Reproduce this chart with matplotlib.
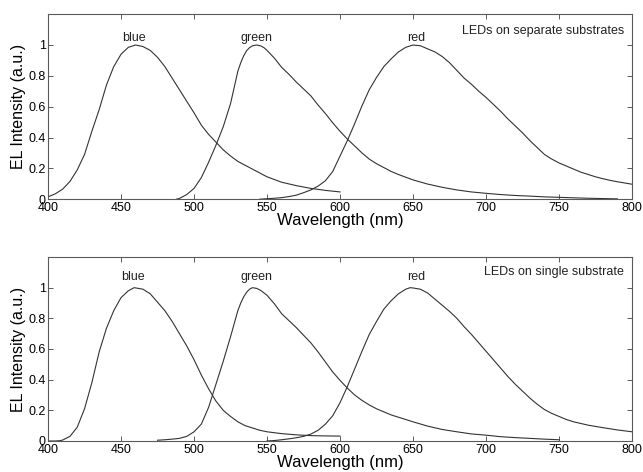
import matplotlib
matplotlib.use('Agg')
import matplotlib.pyplot as plt

plt.rcParams['font.family'] = ['Liberation Sans', 'DejaVu Sans']

# ---- LEDs on separate substrates ----
sep_blue_wl = [400, 405, 410, 415, 420, 425, 430, 435, 440, 445, 450, 455, 460, 465, 470,
               475, 480, 485, 490, 495, 500, 505, 510, 515, 520, 525, 530, 535, 540, 545,
               550, 560, 570, 580, 590, 600]
sep_blue = [0.015, 0.035, 0.065, 0.115, 0.19, 0.29, 0.44, 0.58, 0.74, 0.86, 0.94, 0.985, 1.0, 0.99, 0.965,
            0.92, 0.86, 0.785, 0.71, 0.635, 0.56, 0.48, 0.42, 0.37, 0.32, 0.28, 0.245, 0.22, 0.195, 0.17,
            0.145, 0.11, 0.088, 0.07, 0.057, 0.047]

sep_green_wl = [488, 490, 495, 500, 505, 510, 515, 520, 525, 530, 532, 534, 536, 538, 540,
                543, 546, 548, 550, 555, 560, 565, 570, 575, 580, 585, 590, 595, 600, 605,
                610, 615, 620, 625, 630, 635, 640, 650, 660, 670, 680, 690, 700, 710, 720,
                730, 740, 750, 760, 770, 780, 790]
sep_green = [0.0, 0.005, 0.03, 0.07, 0.14, 0.24, 0.35, 0.47, 0.62, 0.83, 0.885, 0.93, 0.963, 0.983, 0.995,
             1.0, 0.993, 0.982, 0.965, 0.915, 0.855, 0.81, 0.76, 0.715, 0.67, 0.61, 0.555, 0.495, 0.44, 0.39,
             0.345, 0.3, 0.26, 0.23, 0.205, 0.18, 0.16, 0.125, 0.098, 0.077, 0.06, 0.047, 0.038, 0.03, 0.024,
             0.02, 0.015, 0.012, 0.009, 0.006, 0.004, 0.002]

sep_red_wl = [545, 550, 555, 560, 565, 570, 575, 580, 585, 590, 595, 600, 605, 610, 615,
              620, 625, 630, 635, 640, 645, 650, 655, 660, 665, 670, 675, 680, 685, 690,
              695, 700, 705, 710, 715, 720, 725, 730, 735, 740, 745, 750, 755, 760, 765,
              770, 775, 780, 785, 790, 795, 800]
sep_red = [0.0, 0.003, 0.006, 0.01, 0.017, 0.026, 0.042, 0.06, 0.085, 0.12, 0.18, 0.28, 0.38, 0.49, 0.605,
           0.71, 0.79, 0.86, 0.91, 0.955, 0.985, 1.0, 0.995, 0.975, 0.955, 0.925, 0.885, 0.835, 0.785, 0.745,
           0.7, 0.66, 0.615, 0.57, 0.52, 0.475, 0.43, 0.38, 0.335, 0.29, 0.26, 0.235, 0.215, 0.195, 0.175,
           0.16, 0.145, 0.133, 0.122, 0.113, 0.105, 0.097]

# ---- LEDs on single substrate ----
sin_blue_wl = [400, 405, 408, 410, 415, 420, 425, 430, 435, 440, 445, 450, 455, 459, 465,
               470, 475, 480, 485, 490, 495, 500, 505, 510, 515, 520, 525, 530, 535, 540,
               545, 550, 560, 570, 580, 590, 600]
sin_blue = [0.0, 0.0, 0.002, 0.006, 0.03, 0.09, 0.21, 0.38, 0.58, 0.735, 0.85, 0.935, 0.98, 1.0, 0.99,
            0.96, 0.905, 0.85, 0.78, 0.7, 0.62, 0.53, 0.43, 0.34, 0.26, 0.2, 0.16, 0.125, 0.1, 0.085,
            0.07, 0.06, 0.048, 0.04, 0.035, 0.033, 0.032]

sin_green_wl = [475, 480, 485, 490, 495, 500, 505, 510, 515, 520, 525, 530, 532, 534, 536,
                538, 540, 543, 546, 550, 555, 560, 565, 570, 575, 580, 585, 590, 595, 600,
                605, 610, 615, 620, 625, 630, 635, 640, 650, 660, 670, 680, 690, 700, 710,
                720, 730, 740, 750]
sin_green = [0.005, 0.008, 0.012, 0.017, 0.03, 0.06, 0.11, 0.22, 0.37, 0.52, 0.68, 0.85, 0.9, 0.94, 0.97,
             0.99, 1.0, 0.995, 0.98, 0.95, 0.895, 0.83, 0.785, 0.74, 0.69, 0.64, 0.58, 0.515, 0.45, 0.395,
             0.345, 0.3, 0.265, 0.235, 0.21, 0.19, 0.17, 0.155, 0.125, 0.097, 0.075, 0.06, 0.046, 0.038, 0.028,
             0.022, 0.017, 0.012, 0.008]

sin_red_wl = [550, 555, 560, 565, 570, 575, 580, 585, 590, 595, 600, 605, 610, 615, 620,
              625, 630, 635, 640, 645, 648, 650, 655, 660, 665, 670, 675, 680, 685, 690,
              695, 700, 705, 710, 715, 720, 725, 730, 735, 740, 745, 750, 755, 760, 770,
              780, 790, 800]
sin_red = [0.0, 0.003, 0.008, 0.014, 0.021, 0.03, 0.045, 0.07, 0.11, 0.165, 0.25, 0.355, 0.47, 0.585, 0.695,
           0.78, 0.86, 0.915, 0.96, 0.99, 1.0, 0.998, 0.99, 0.965, 0.925, 0.885, 0.845, 0.8, 0.745, 0.695,
           0.64, 0.585, 0.53, 0.475, 0.42, 0.37, 0.325, 0.28, 0.24, 0.205, 0.18, 0.16, 0.14, 0.125, 0.103,
           0.087, 0.072, 0.06]

sep_labels = [('blue', 459), ('green', 543), ('red', 652)]
sin_labels = [('blue', 458), ('green', 543), ('red', 652)]
x_ticks = [400, 450, 500, 550, 600, 650, 700, 750, 800]
y_ticks = [0, 0.2, 0.4, 0.6, 0.8, 1]
y_ticklabels = ['0', '0.2', '0.4', '0.6', '0.8', '1']

line_col = '#333333'
frame_col = '#5a5a5a'

fig = plt.figure(figsize=(6.43, 4.72), dpi=100)
ax1 = fig.add_axes([0.0747, 0.578, 0.9083, 0.392])
ax2 = fig.add_axes([0.0747, 0.0657, 0.9083, 0.3898])


def setup(ax, curves, labels, title, label_y, title_y):
    for wl, val in curves:
        ax.plot(wl, val, color=line_col, lw=0.8)
    ax.set_xlim(400, 800)
    ax.set_ylim(0, 1.2)
    ax.set_xticks(x_ticks)
    ax.set_yticks(y_ticks)
    ax.set_yticklabels(y_ticklabels)
    ax.tick_params(direction='in', length=3.5, width=0.7, color=frame_col,
                   top=True, right=True, labelsize=9, pad=1.5)
    ax.tick_params(axis='x', pad=2)
    for s in ax.spines.values():
        s.set_color(frame_col)
        s.set_linewidth(0.8)
    for name, x in labels:
        ax.text(x, label_y, name, ha='center', va='baseline', fontsize=9, color='#222222')
    ax.text(0.986, title_y, title, transform=ax.transAxes, ha='right', va='baseline',
            fontsize=9, color='#222222')
    ax.set_xlabel('Wavelength (nm)', fontsize=12, labelpad=-0.5)
    ax.set_ylabel('EL Intensity (a.u.)', fontsize=11.5, labelpad=2)


setup(ax1, [(sep_blue_wl, sep_blue), (sep_green_wl, sep_green), (sep_red_wl, sep_red)],
      sep_labels, 'LEDs on separate substrates', 1.028, 0.892)
setup(ax2, [(sin_blue_wl, sin_blue), (sin_green_wl, sin_green), (sin_red_wl, sin_red)],
      sin_labels, 'LEDs on single substrate', 1.052, 0.902)

fig.savefig('out.png', dpi=100)
